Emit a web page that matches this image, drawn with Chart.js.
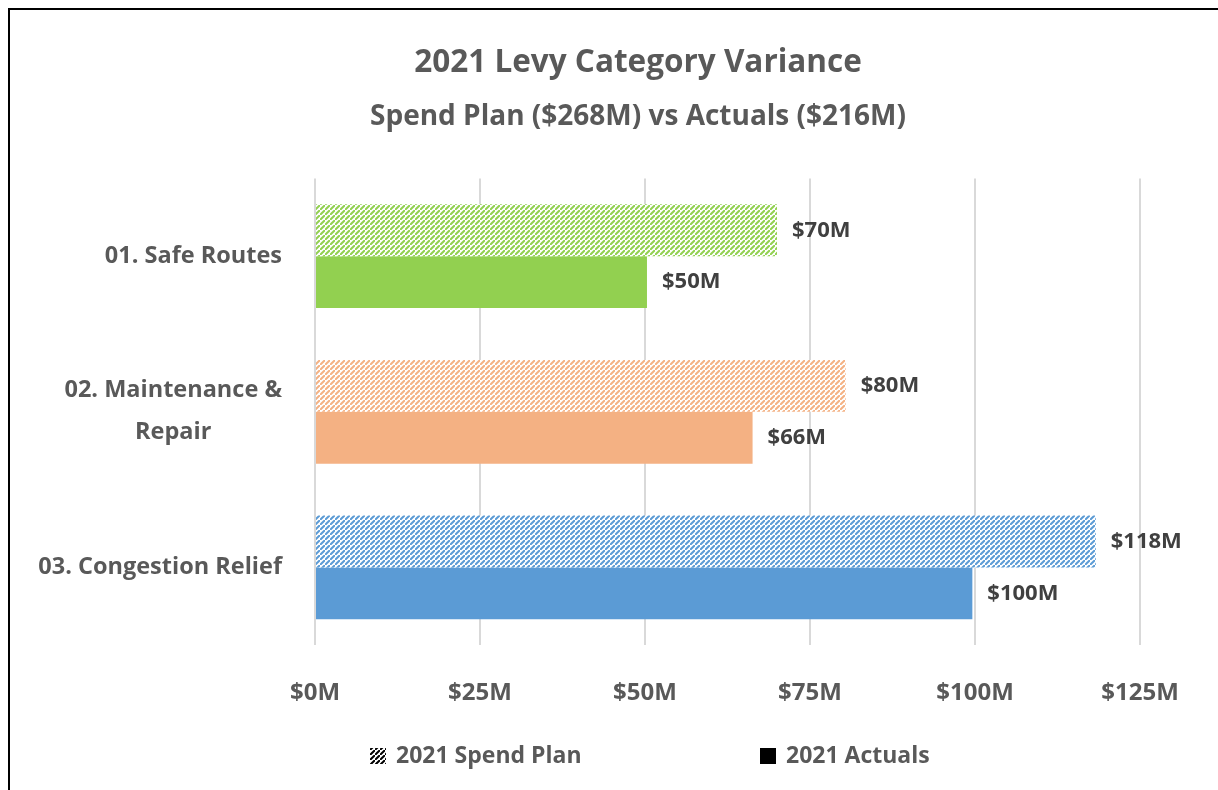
<!DOCTYPE html>
<html>
<head>
<meta charset="utf-8">
<script src="https://cdn.jsdelivr.net/npm/chart.js@4.4.1/dist/chart.umd.min.js"></script>
<style>
  html, body { margin: 0; padding: 0; background: #fff; overflow: hidden; }
  .edge { position: absolute; background: #000; }
  #edgeLeft { left: 8px; top: 8px; width: 2px; height: 2000px; }
  #edgeTop { left: 8px; top: 8px; width: 3000px; height: 2px; }
  #chart { position: absolute; left: 10px; top: 10px; display: block; }
</style>
</head>
<body>
<div class="edge" id="edgeLeft"></div>
<div class="edge" id="edgeTop"></div>
<canvas id="chart" width="1256" height="780"></canvas>
<script>
// chart data
const categories = [['01. Safe Routes'], ['02. Maintenance &', 'Repair'], ['03. Congestion Relief']];
const spendPlan = [70, 80.4, 118.3];
const actuals = [50.3, 66.3, 99.6];
const seriesNames = ['2021 Spend Plan', '2021 Actuals'];
const colors = ['#92D050', '#F4B183', '#5B9BD5'];
const xTicks = [0, 25, 50, 75, 100, 125];

const FONT = '"Open Sans", sans-serif';
const GREY = '#595959';

// diagonal hatch pattern (/// style)
function hatch(color) {
  const n = 5;
  const c = document.createElement('canvas');
  c.width = n; c.height = n;
  const g = c.getContext('2d');
  g.fillStyle = '#fff';
  g.fillRect(0, 0, n, n);
  g.strokeStyle = color;
  g.lineWidth = 2;
  g.beginPath();
  g.moveTo(-1, n + 1); g.lineTo(n + 1, -1);
  g.moveTo(-n - 1, 1); g.lineTo(1, -n - 1);
  g.moveTo(n - 1, 2 * n + 1); g.lineTo(2 * n + 1, n - 1);
  g.stroke();
  return g.createPattern(c, 'repeat');
}

// value labels at end of bars
const barLabels = {
  id: 'barLabels',
  afterDatasetsDraw(chart) {
    const ctx = chart.ctx;
    ctx.save();
    ctx.font = 'bold 22px ' + FONT;
    ctx.fillStyle = '#404040';
    ctx.textAlign = 'left';
    ctx.textBaseline = 'middle';
    chart.data.datasets.forEach((ds, i) => {
      chart.getDatasetMeta(i).data.forEach((bar, j) => {
        ctx.fillText('$' + Math.round(ds.data[j]) + 'M', bar.x + 15, bar.y);
      });
    });
    ctx.restore();
  }
};

// category labels: block right aligned, lines centred inside block
const catLabels = {
  id: 'catLabels',
  afterDraw(chart) {
    const ctx = chart.ctx;
    const y = chart.scales.y;
    ctx.save();
    ctx.font = 'bold 23.5px ' + FONT;
    ctx.fillStyle = GREY;
    ctx.textAlign = 'center';
    ctx.textBaseline = 'middle';
    const right = chart.chartArea.left - 33;
    const lh = 42;
    categories.forEach((lines, i) => {
      const w = Math.max(...lines.map(l => ctx.measureText(l).width));
      const cx = right - w / 2;
      const cy = y.getPixelForValue(i);
      lines.forEach((l, k) => {
        ctx.fillText(l, cx, cy + (k - (lines.length - 1) / 2) * lh);
      });
    });
    ctx.restore();
  }
};

// legend drawn by hand so the gap between the two items can be wide
const wideLegend = {
  id: 'wideLegend',
  afterDraw(chart) {
    const ctx = chart.ctx;
    const mid = chart.width / 2;
    const y = 746;
    const starts = [mid - 268, mid + 122];
    ctx.save();
    ctx.font = 'bold 23px ' + FONT;
    ctx.textBaseline = 'middle';
    ctx.textAlign = 'left';
    seriesNames.forEach((name, i) => {
      ctx.fillStyle = i === 0 ? hatch('#000') : '#000';
      ctx.fillRect(starts[i], y - 8, 16, 16);
      ctx.fillStyle = GREY;
      ctx.fillText(name, starts[i] + 26, y);
    });
    ctx.restore();
  }
};

new Chart(document.getElementById('chart'), {
  type: 'bar',
  data: {
    labels: categories,
    datasets: [{
      label: seriesNames[0],
      data: spendPlan,
      backgroundColor: colors.map(hatch),
      borderWidth: 0,
      categoryPercentage: 0.667,
      barPercentage: 1
    }, {
      label: seriesNames[1],
      data: actuals,
      backgroundColor: colors,
      borderWidth: 0,
      categoryPercentage: 0.667,
      barPercentage: 1
    }]
  },
  options: {
    indexAxis: 'y',
    responsive: false,
    animation: false,
    layout: { padding: { left: 126, right: 126, top: 0, bottom: 48 } },
    plugins: {
      title: {
        display: true,
        text: '2021 Levy Category Variance',
        color: GREY,
        font: { family: FONT, size: 31.5, weight: 'bold' },
        padding: { top: 34, bottom: 8 }
      },
      subtitle: {
        display: true,
        text: 'Spend Plan ($268M) vs Actuals ($216M)',
        color: GREY,
        font: { family: FONT, size: 28, weight: 'bold' },
        padding: { top: 10, bottom: 45 }
      },
      legend: { display: false },
      tooltip: { enabled: false }
    },
    scales: {
      x: {
        min: 0,
        max: 125,
        afterBuildTicks(scale) {
          scale.ticks = xTicks.map(v => ({ value: v }));
        },
        grid: { color: '#D9D9D9', lineWidth: 2, drawTicks: false },
        border: { display: false },
        ticks: {
          color: GREY,
          padding: 34,
          font: { family: FONT, size: 24, weight: 'bold' },
          callback: v => '$' + v + 'M'
        }
      },
      y: {
        grid: { display: false },
        border: { display: false },
        ticks: { display: false },
        afterFit(scale) { scale.width = 179; }
      }
    }
  },
  plugins: [barLabels, catLabels, wideLegend]
});
</script>
</body>
</html>
